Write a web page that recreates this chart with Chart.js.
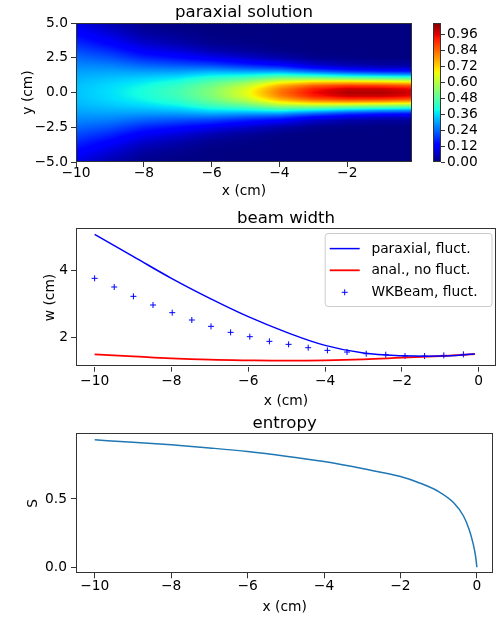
<!DOCTYPE html>
<html>
<head>
<meta charset="utf-8">
<script src="https://cdn.jsdelivr.net/npm/chart.js@4.4.1/dist/chart.umd.min.js"></script>
<style>
html,body{margin:0;padding:0;background:#ffffff;}
#wrap{position:relative;width:501px;height:619px;overflow:hidden;background:#fff;}
#wrap canvas{position:absolute;}
</style>
</head>
<body>
<div id="wrap">
  <canvas id="heat" width="425" height="200" style="left:0;top:0"></canvas>
  <canvas id="cbar" width="76" height="200" style="left:425px;top:0"></canvas>
  <canvas id="width" width="501" height="210" style="left:0;top:200px"></canvas>
  <canvas id="entropy" width="501" height="209" style="left:0;top:410px"></canvas>
</div>
<script>
// ---------------- DATA ----------------
// heat map (paraxial solution): columns at x (cm), rows at |y| (cm); field is symmetric in y
const heatX = [-10, -9, -8, -7, -6, -5, -4, -3, -2, -1, 0];
const heatY = [0, 0.25, 0.5, 0.75, 1, 1.25, 1.5, 1.75, 2, 2.5, 3, 3.5, 4, 4.5, 5];
const heatZ = [
  [0.330,0.360,0.400,0.450,0.530,0.650,0.820,0.940,1.000,1.000,0.970],
  [0.329,0.358,0.397,0.445,0.525,0.639,0.804,0.920,0.976,0.976,0.946],
  [0.326,0.353,0.386,0.429,0.505,0.602,0.750,0.844,0.884,0.880,0.852],
  [0.321,0.343,0.370,0.405,0.472,0.543,0.660,0.716,0.727,0.714,0.688],
  [0.313,0.331,0.348,0.373,0.426,0.468,0.544,0.554,0.534,0.511,0.488],
  [0.304,0.316,0.321,0.335,0.371,0.385,0.420,0.389,0.347,0.317,0.301],
  [0.294,0.298,0.292,0.294,0.312,0.301,0.302,0.246,0.197,0.169,0.158],
  [0.282,0.279,0.260,0.252,0.251,0.225,0.201,0.139,0.097,0.076,0.070],
  [0.268,0.258,0.228,0.211,0.195,0.159,0.125,0.070,0.041,0.029,0.026],
  [0.239,0.214,0.166,0.138,0.103,0.069,0.038,0.012,0.005,0.002,0.002],
  [0.207,0.170,0.113,0.082,0.046,0.024,0.008,0.001,0.000,0.000,0.000],
  [0.175,0.129,0.072,0.044,0.017,0.007,0.001,0.000,0.000,0.000,0.000],
  [0.144,0.095,0.042,0.022,0.005,0.002,0.000,0.000,0.000,0.000,0.000],
  [0.116,0.066,0.023,0.010,0.001,0.000,0.000,0.000,0.000,0.000,0.000],
  [0.091,0.045,0.012,0.004,0.000,0.000,0.000,0.000,0.000,0.000,0.000]
];
const heatXTicks = [-10, -8, -6, -4, -2];
const heatYTicks = [-5, -2.5, 0, 2.5, 5];
const cbarTicks = [0, 0.12, 0.24, 0.36, 0.48, 0.60, 0.72, 0.84, 0.96];
const cbarMax = 1.045;

// beam width
const widthX = [-10, -9, -8, -7, -6, -5, -4, -3, -2, -1, -0.1];
const paraxialW = [5.09, 4.43, 3.77, 3.17, 2.62, 2.15, 1.76, 1.53, 1.45, 1.44, 1.50];
const analyticW = [1.49, 1.43, 1.37, 1.33, 1.31, 1.30, 1.31, 1.34, 1.39, 1.44, 1.50];
const wkX = [-10, -9.49, -8.99, -8.48, -7.98, -7.47, -6.97, -6.46, -5.96, -5.45,
             -4.95, -4.44, -3.94, -3.43, -2.93, -2.42, -1.92, -1.41, -0.91, -0.40];
const wkW = [3.77, 3.51, 3.23, 2.97, 2.74, 2.52, 2.33, 2.15, 2.02, 1.88,
             1.79, 1.69, 1.61, 1.56, 1.51, 1.48, 1.44, 1.44, 1.46, 1.49];
const widthXTicks = [-10, -8, -6, -4, -2, 0];
const widthYTicks = [2, 4];

// entropy
const entX = [-10, -9, -8, -7, -6, -5, -4, -3, -2, -1.5, -1, -0.6, -0.35, -0.2, -0.1, -0.03, 0];
const entS = [0.932, 0.915, 0.896, 0.873, 0.847, 0.813, 0.773, 0.722, 0.664, 0.617, 0.553, 0.470, 0.375, 0.275, 0.175, 0.075, 0.0];
const entXTicks = [-10, -8, -6, -4, -2, 0];
const entYTicks = [0, 0.5];

// ---------------- HELPERS ----------------
const FONT = 'DejaVu Sans';
Chart.defaults.font.family = FONT;
Chart.defaults.color = '#000';
const TICK_FS = 13.8, TITLE_FS = 16.6;
const MINUS = '\u2212';
function fmt(v, d) {
  const s = d == null ? String(v) : Number(v).toFixed(d);
  return s.replace('-', MINUS);
}
function pts(xs, ys) { return xs.map((x, i) => ({x: x, y: ys[i]})); }

function mkScale(o) {
  const horiz = o.pos === 'bottom' || o.pos === 'top';
  return {
    type: 'linear', position: o.pos, min: o.min, max: o.max, display: true,
    afterBuildTicks: s => { s.ticks = o.ticks.map(v => ({value: v})); },
    afterFit: s => { if (s.isHorizontal()) s.height = o.size; else s.width = o.size; },
    grid: {display: true, drawOnChartArea: false, drawTicks: true, tickLength: o.tickLen || 5, color: '#333', lineWidth: 1},
    border: {display: false},
    ticks: {font: {size: TICK_FS, lineHeight: 1}, color: '#000', padding: o.tickPad,
            callback: v => fmt(v, o.dec), maxRotation: 0, minRotation: 0, autoSkip: false},
    title: o.title ? {display: true, text: o.title, color: '#000',
            font: {size: TICK_FS, lineHeight: 1.2},
            padding: horiz ? {top: 0, bottom: o.titlePad} : {top: o.titlePad, bottom: 0}} : {display: false}
  };
}

const JET = {
  r: [[0,0],[0.35,0],[0.66,1],[0.89,1],[1,0.5]],
  g: [[0,0],[0.125,0],[0.375,1],[0.64,1],[0.91,0],[1,0]],
  b: [[0,0.5],[0.11,1],[0.34,1],[0.65,0],[1,0]]
};
function seg(p, t) {
  for (let i = 1; i < p.length; i++) {
    if (t <= p[i][0]) { const x0 = p[i-1][0], y0 = p[i-1][1], x1 = p[i][0], y1 = p[i][1];
      return y0 + (y1 - y0) * (t - x0) / (x1 - x0); }
  }
  return p[p.length - 1][1];
}
function jet(t) {
  t = Math.min(1, Math.max(0, t));
  return [seg(JET.r, t), seg(JET.g, t), seg(JET.b, t)].map(c => Math.round(c * 255));
}
function locate(arr, v) {
  if (v <= arr[0]) return [0, 0];
  for (let i = 1; i < arr.length; i++) if (v <= arr[i]) return [i - 1, (v - arr[i-1]) / (arr[i] - arr[i-1])];
  return [arr.length - 2, 1];
}
function sample(xv, yv) {
  const [i, fx] = locate(heatX, xv);
  const [j, fy] = locate(heatY, Math.abs(yv));
  const a = heatZ[j][i], b = heatZ[j][i+1], c = heatZ[j+1][i], d = heatZ[j+1][i+1];
  return (a * (1 - fx) + b * fx) * (1 - fy) + (c * (1 - fx) + d * fx) * fy;
}

// frame (matplotlib spines) + axes title
function framePlugin(title, titleGap) {
  return {
    id: 'frame',
    afterDraw(chart) {
      const {ctx, chartArea: a} = chart;
      ctx.save();
      ctx.strokeStyle = '#333';
      ctx.lineWidth = 1;
      ctx.strokeRect(Math.round(a.left) + 0.5, Math.round(a.top) + 0.5,
                     Math.round(a.right - a.left) - 1, Math.round(a.bottom - a.top) - 1);
      if (title) {
        ctx.fillStyle = '#000';
        ctx.font = TITLE_FS + 'px "' + FONT + '"';
        ctx.textAlign = 'center';
        ctx.textBaseline = 'alphabetic';
        ctx.fillText(title, (a.left + a.right) / 2, a.top - titleGap);
      }
      ctx.restore();
    }
  };
}

const heatPlugin = {
  id: 'heatmap',
  beforeDatasetsDraw(chart) {
    const {ctx, chartArea: a, scales: {x, y}} = chart;
    const L = Math.round(a.left), T = Math.round(a.top);
    const w = Math.round(a.right) - L, h = Math.round(a.bottom) - T;
    const off = document.createElement('canvas');
    off.width = w; off.height = h;
    const octx = off.getContext('2d');
    const img = octx.createImageData(w, h);
    for (let j = 0; j < h; j++) {
      const yv = y.getValueForPixel(T + j + 0.5);
      for (let i = 0; i < w; i++) {
        const xv = x.getValueForPixel(L + i + 0.5);
        const c = jet(sample(xv, yv) / cbarMax);
        const k = (j * w + i) * 4;
        img.data[k] = c[0]; img.data[k+1] = c[1]; img.data[k+2] = c[2]; img.data[k+3] = 255;
      }
    }
    octx.putImageData(img, 0, 0);
    ctx.drawImage(off, L, T);
  }
};

const cbarPlugin = {
  id: 'cbarfill',
  beforeDatasetsDraw(chart) {
    const {ctx, chartArea: a, scales: {y}} = chart;
    const T = Math.round(a.top), B = Math.round(a.bottom);
    for (let py = T; py < B; py++) {
      const c = jet(y.getValueForPixel(py + 0.5) / cbarMax);
      ctx.fillStyle = 'rgb(' + c.join(',') + ')';
      ctx.fillRect(a.left, py, a.right - a.left, 1);
    }
  }
};

const legendPlugin = {
  id: 'mpllegend',
  afterDraw(chart) {
    const {ctx, chartArea: a} = chart;
    const left = a.right - 171.3, right = a.right - 4.5, top = a.top + 4.7, bottom = top + 73;
    ctx.save();
    ctx.beginPath();
    if (ctx.roundRect) ctx.roundRect(left + 0.5, top + 0.5, right - left, bottom - top, 3);
    else ctx.rect(left + 0.5, top + 0.5, right - left, bottom - top);
    ctx.fillStyle = 'rgba(255,255,255,0.8)';
    ctx.fill();
    ctx.strokeStyle = '#cccccc';
    ctx.lineWidth = 1;
    ctx.stroke();
    ctx.font = TICK_FS + 'px "' + FONT + '"';
    ctx.textBaseline = 'middle';
    ctx.textAlign = 'left';
    const rows = [15.6, 37.3, 59.3];
    chart.data.datasets.forEach((ds, i) => {
      const cy = top + rows[i];
      const hx0 = left + 5, hx1 = left + 35;
      if (ds.showLine === false) {
        const r = ds.pointRadius, cx = (hx0 + hx1) / 2;
        ctx.strokeStyle = ds.borderColor; ctx.lineWidth = ds.pointBorderWidth;
        ctx.beginPath();
        ctx.moveTo(cx - r, cy); ctx.lineTo(cx + r, cy);
        ctx.moveTo(cx, cy - r); ctx.lineTo(cx, cy + r);
        ctx.stroke();
      } else {
        ctx.strokeStyle = ds.borderColor; ctx.lineWidth = ds.borderWidth;
        ctx.beginPath(); ctx.moveTo(hx0, cy); ctx.lineTo(hx1, cy); ctx.stroke();
      }
      ctx.fillStyle = '#000';
      ctx.fillText(ds.label, left + 46.7, cy + 0.5);
    });
    ctx.restore();
  }
};

const common = {
  responsive: false, animation: false, events: [],
  plugins: {legend: {display: false}, tooltip: {enabled: false}, title: {display: false}}
};

// ---------------- CHART 1: heat map ----------------
new Chart(document.getElementById('heat'), {
  type: 'scatter',
  data: {datasets: []},
  options: Object.assign({}, common, {
    layout: {padding: {left: 0, top: 23, right: 13, bottom: 0}},
    scales: {
      x: mkScale({pos: 'bottom', min: -10, max: -0.09, ticks: heatXTicks, dec: null, size: 38, tickPad: 0, title: 'x (cm)', titlePad: 0}),
      y: mkScale({pos: 'left', min: -5, max: 5, ticks: heatYTicks, dec: 1, size: 76, tickPad: 3, title: 'y (cm)', titlePad: 19.7})
    }
  }),
  plugins: [heatPlugin, framePlugin('paraxial solution', 6)]
});

// ---------------- colour bar ----------------
new Chart(document.getElementById('cbar'), {
  type: 'scatter',
  data: {datasets: []},
  options: Object.assign({}, common, {
    layout: {padding: {left: 8, top: 22.7, right: 0, bottom: 38}},
    scales: {
      x: {type: 'linear', display: false, min: 0, max: 1},
      y: mkScale({pos: 'right', min: 0, max: cbarMax, ticks: cbarTicks, dec: 2, size: 60, tickPad: 2, tickLen: 4})
    }
  }),
  plugins: [cbarPlugin, framePlugin(null, 0)]
});

// ---------------- CHART 2: beam width ----------------
new Chart(document.getElementById('width'), {
  type: 'line',
  data: {datasets: [
    {label: 'paraxial, fluct.', data: pts(widthX, paraxialW), borderColor: '#0000ff', borderWidth: 1.5,
     pointRadius: 0, tension: 0.4, fill: false},
    {label: 'anal., no fluct.', data: pts(widthX, analyticW), borderColor: '#ff0000', borderWidth: 1.8,
     pointRadius: 0, tension: 0.4, fill: false},
    {label: 'WKBeam, fluct.', data: pts(wkX, wkW), showLine: false, borderColor: '#0000ff', backgroundColor: '#0000ff',
     pointStyle: 'cross', pointRadius: 3, pointBorderWidth: 1, pointBorderColor: '#0000ff'}
  ]},
  options: Object.assign({}, common, {
    layout: {padding: {left: 0, top: 28.3, right: 3.7, bottom: 0}},
    scales: {
      x: mkScale({pos: 'bottom', min: -10.485, max: 0.449, ticks: widthXTicks, dec: null, size: 43.3, tickPad: 3, title: 'x (cm)', titlePad: 0}),
      y: mkScale({pos: 'left', min: 1.12, max: 5.27, ticks: widthYTicks, dec: null, size: 76, tickPad: 3, title: 'w (cm)', titlePad: 41.7})
    }
  }),
  plugins: [framePlugin('beam width', 5.6), legendPlugin]
});

// ---------------- CHART 3: entropy ----------------
new Chart(document.getElementById('entropy'), {
  type: 'line',
  data: {datasets: [
    {label: 'S', data: pts(entX, entS), borderColor: '#1f77b4', borderWidth: 1.5,
     pointRadius: 0, cubicInterpolationMode: 'monotone', fill: false}
  ]},
  options: Object.assign({}, common, {
    layout: {padding: {left: 0, top: 23.3, right: 7.7, bottom: 0}},
    scales: {
      x: mkScale({pos: 'bottom', min: -10.49, max: 0.43, ticks: entXTicks, dec: null, size: 45.7, tickPad: 1.5, title: 'x (cm)', titlePad: 3}),
      y: mkScale({pos: 'left', min: -0.044, max: 0.98, ticks: entYTicks, dec: 1, size: 76, tickPad: 4, title: 'S', titlePad: 25})
    }
  }),
  plugins: [framePlugin('entropy', 5)]
});
</script>
</body>
</html>
